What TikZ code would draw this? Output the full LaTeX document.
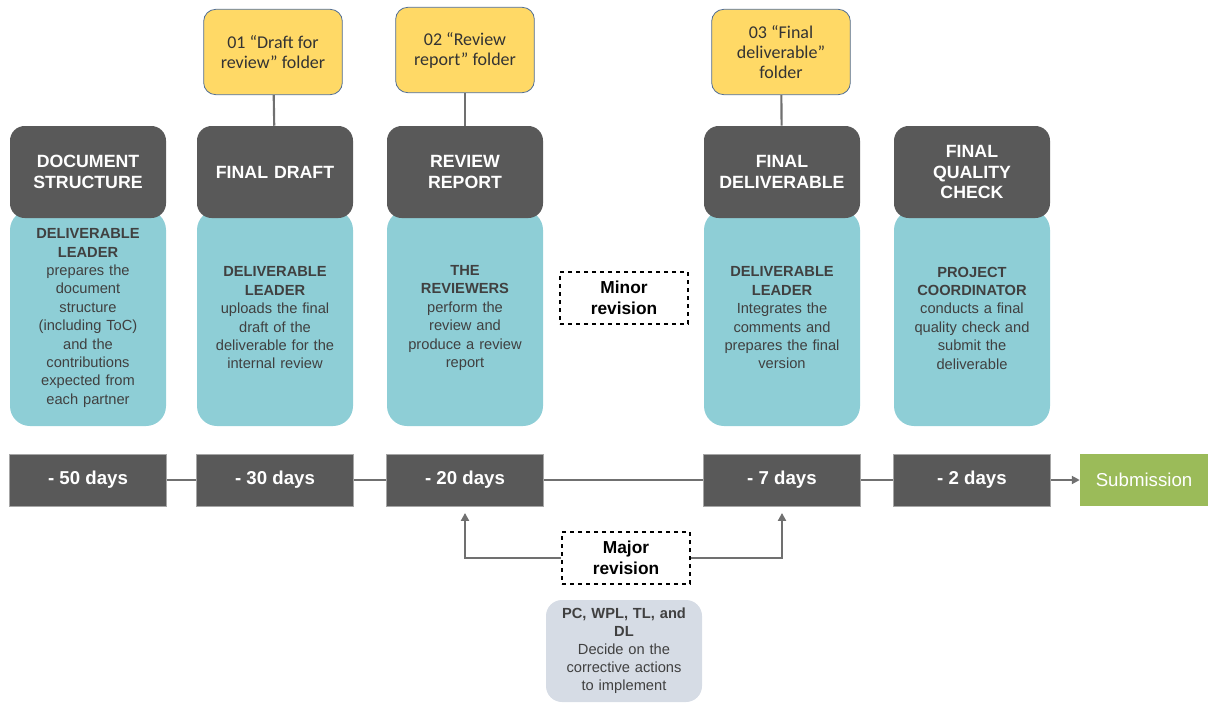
\documentclass[tikz,border=0pt]{standalone}
\usepackage{fontspec}
\setmainfont{Liberation Sans}
\newfontfamily\calfont{Carlito}
\usetikzlibrary{arrows.meta, positioning}
\definecolor{darkbox}{RGB}{89,89,89}
\definecolor{tealbox}{RGB}{142,206,214}
\definecolor{folderyellow}{RGB}{255,217,102}
\definecolor{folderedge}{RGB}{80,110,150}
\definecolor{subgreen}{RGB}{155,187,89}
\definecolor{greybox}{RGB}{214,220,229}
\definecolor{bodytext}{RGB}{64,64,64}
\definecolor{linegray}{RGB}{112,112,112}

\begin{document}
\begin{tikzpicture}[
    x=0.75pt, y=-0.75pt,
    header/.style={rectangle, rounded corners=11pt, fill=darkbox, text=white, inner sep=2pt, text width=113pt, minimum height=69pt, align=center, font=\bfseries\fontsize{13.3}{15.2}\selectfont},
    body/.style={rectangle, rounded corners=15pt, fill=tealbox, text=bodytext, inner sep=2pt, text width=113pt, minimum height=162pt, align=center, font=\fontsize{11}{13.8}\selectfont},
    days/.style={rectangle, fill=darkbox, draw=gray!70, line width=0.4pt, text=white, minimum width=117.75pt, minimum height=39pt, font=\bfseries\fontsize{14}{16}\selectfont},
    folder/.style={rectangle, rounded corners=9pt, fill=folderyellow, draw=folderedge, line width=0.6pt, minimum width=104pt, minimum height=64pt, align=center, text=black!80, font=\calfont\fontsize{13.5}{15}\selectfont},
    revision/.style={rectangle, draw, dashed, thick, minimum width=96pt, minimum height=39pt, align=center, font=\bfseries\fontsize{13}{15.5}\selectfont},
    conn/.style={draw=linegray, line width=2pt},
    arrow/.style={conn, -{Triangle[length=6pt, width=6pt]}}
]
    \useasboundingbox (0,0) rectangle (1208,704);

    % Teal bodies
    \node[body] (b1) at (88,318) {\textbf{DELIVERABLE}\\\textbf{LEADER}\\prepares the\\document\\structure\\(including ToC)\\and the\\contributions\\expected from\\each partner};
    \node[body] (b2) at (275,318) {\textbf{DELIVERABLE}\\\textbf{LEADER}\\uploads the final\\draft of the\\deliverable for the\\internal review};
    \node[body] (b3) at (465,318) {\textbf{THE}\\\textbf{REVIEWERS}\\perform the\\review and\\produce a review\\report};
    \node[body] (b4) at (782,318) {\textbf{DELIVERABLE}\\\textbf{LEADER}\\Integrates the\\comments and\\prepares the final\\version};
    \node[body] (b5) at (972,318) {\textbf{PROJECT}\\\textbf{COORDINATOR}\\conducts a final\\quality check and\\submit the\\deliverable};

    % Headers
    \node[header] (h1) at (88,172) {DOCUMENT\\STRUCTURE};
    \node[header] (h2) at (275,172) {FINAL DRAFT};
    \node[header] (h3) at (465,172) {REVIEW\\REPORT};
    \node[header] (h4) at (782,172) {FINAL\\DELIVERABLE};
    \node[header] (h5) at (972,172) {FINAL\\QUALITY\\CHECK};

    % Folders
    \node[folder] (f1) at (273,52) {01 “Draft for\\review” folder};
    \node[folder] (f2) at (465,50) {02 “Review\\report” folder};
    \node[folder] (f3) at (781,52) {03 “Final\\deliverable”\\folder};
    \draw[conn, line width=1.6pt] (f1) -- (h2);
    \draw[conn, line width=1.6pt] (f2) -- (h3);
    \draw[conn, line width=1.6pt] (f3) -- (h4);

    % Timeline
    \node[days] (d50) at (88,480) {- 50 days};
    \node[days] (d30) at (275,480) {- 30 days};
    \node[days] (d20) at (465,480) {- 20 days};
    \node[days] (d7) at (782,480) {- 7 days};
    \node[days] (d2) at (972,480) {- 2 days};
    \node[rectangle, fill=subgreen, text=white, minimum width=96pt, minimum height=39pt, font=\fontsize{14}{16}\selectfont, right=21.75pt of d2] (sub) {Submission};

    \draw[conn] (d50) -- (d30);
    \draw[conn] (d30) -- (d20);
    \draw[conn] (d20) -- (d7);
    \draw[conn] (d7) -- (d2);
    \draw[arrow] (d2) -- (sub);

    % Revisions
    \node[revision] (minor) at (624,298) {Minor\\revision};
    \node[revision] (major) at (626,558) {Major\\revision};
    \draw[arrow, shorten >=5pt] (major.west) -| (d20.south);
    \draw[arrow, shorten >=5pt] (major.east) -| (d7.south);

    % Decision box
    \node[rectangle, rounded corners=12pt, fill=greybox, text=bodytext, inner sep=2pt, text width=113pt, minimum height=76.5pt, align=center, font=\fontsize{11}{13.5}\selectfont] (pc) at (624,651) {\textbf{PC, WPL, TL, and}\\\textbf{DL}\\Decide on the\\corrective actions\\to implement};
\end{tikzpicture}
\end{document}
